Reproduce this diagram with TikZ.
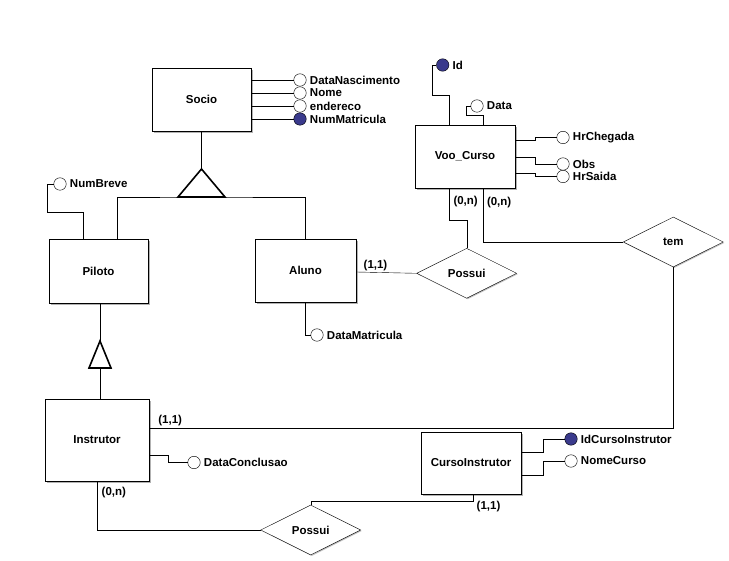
\documentclass[tikz,border=0pt]{standalone}
\usepackage{fontspec}
\setmainfont{Liberation Sans}
\usetikzlibrary{positioning,shapes.geometric,shadows}
\definecolor{keyblue}{RGB}{58,58,140}

\begin{document}
\begin{tikzpicture}[x=1pt,y=-1pt, every node/.style={font=\bfseries\fontsize{11.5}{13}\selectfont},
    ent/.style={draw,fill=white,minimum width=100pt,minimum height=63pt,
      drop shadow={shadow xshift=2pt,shadow yshift=-2pt,fill=gray!60,opacity=1}},
    rel/.style={draw,diamond,aspect=2,minimum width=100pt,minimum height=50pt,inner sep=0pt,fill=white,
      drop shadow={shadow xshift=1pt,shadow yshift=-1pt,fill=gray!50,opacity=1}},
    attr/.style={draw,circle,minimum size=12.5pt,inner sep=0pt,fill=white,label distance=-0.5pt},
    pk/.style={attr,fill=keyblue},
    isa/.style={line width=1.6pt,line join=miter},
    card/.style={inner sep=1.5pt}]
  \useasboundingbox[fill=white] (0,0) rectangle (729,561);

  % entidades
  \node[ent,minimum width=99pt] (Socio) at (201.5,99.5) {Socio};
  \node[ent,minimum width=99pt,minimum height=64pt] (Piloto) at (98.5,271) {Piloto};
  \node[ent,minimum width=101pt] (Aluno) at (305.5,270.5) {Aluno};
  \node[ent] (Voo) at (465,156.5) {Voo\_Curso};
  \node[ent,minimum width=104pt,minimum height=82pt] (Instrutor) at (97,440) {Instrutor};
  \node[ent,minimum height=62pt] (Curso) at (471,463) {CursoInstrutor};

  % relacionamentos
  \node[rel] (pos1) at (466.7,273.3) {Possui};
  \node[rel] (tem) at (673.3,242) {tem};
  \node[rel] (pos2) at (310.7,530) {Possui};

  % atributos
  \node[attr,label=right:DataNascimento] (aDataNasc) at (300,80) {};
  \node[attr,label=right:Nome] (aNome) at (300,93) {};
  \node[attr,label=right:endereco] (aEnd) at (300,106) {};
  \node[pk,label=right:NumMatricula] (aNumMat) at (300,119) {};
  \node[attr,label=right:NumBreve] (aNumBreve) at (60,184) {};
  \node[attr,label=right:DataMatricula] (aDataMat) at (317,335) {};
  \node[pk,label=right:Id] (aId) at (442.7,65) {};
  \node[attr,label=right:Data] (aData) at (477,106) {};
  \node[attr,label=right:HrChegada] (aHrCheg) at (563,137.5) {};
  \node[attr,label=right:Obs] (aObs) at (563,164) {};
  \node[attr,label=right:HrSaida] (aHrSaida) at (563,176.5) {};
  \node[attr,label=right:DataConclusao] (aDataConc) at (194,462.5) {};
  \node[pk,label=right:IdCursoInstrutor] (aIdCurso) at (571,439) {};
  \node[attr,label=right:NomeCurso] (aNomeCurso) at (571,461) {};

  % atributos de Socio
  \foreach \a in {aDataNasc,aNome,aEnd,aNumMat}
    \draw (Socio.east |- \a) -- (\a);

  % especializacao Socio
  \coordinate (isaTop) at (201.5,169);
  \coordinate (isaBase) at (201.5,197);
  \draw (Socio.south) -- (isaTop);
  \draw[isa] (isaTop) -- ++(-23.5,28) -- ++(47,0) -- cycle;
  \draw ([xshift=18.5pt]Piloto.north) |- (isaBase) -| (Aluno.north);

  % especializacao Piloto
  \coordinate (isa2Top) at (100,341);
  \coordinate (isa2Base) at (100,368);
  \draw (Piloto.south -| isa2Top) -- (isa2Top);
  \draw[isa] (isa2Top) -- ++(-11,27) -- ++(22,0) -- cycle;
  \draw (isa2Base) -- (Instrutor.north -| isa2Base);

  \draw ([xshift=-15.5pt]Piloto.north) -- ++(0,-27) -| ([xshift=-6pt]aNumBreve.west) -- (aNumBreve);
  \draw (Aluno.south) |- (aDataMat);
  \draw (Aluno.east |- 0,272) -- node[card,above,pos=0.32] (cAluno) {(1,1)} (pos1.west);

  % Voo_Curso
  \draw ([xshift=-15.7pt]Voo.south) -- node[card,right,xshift=2.5pt,pos=0.42] (cVoo1) {(0,n)} ++(0,32.3) -| (pos1.north);
  \draw ([xshift=18.3pt]Voo.south) |- node[card,right,xshift=2pt,pos=0.13] (cVoo2) {(0,n)} (tem.west);
  \draw ([xshift=-15.7pt]Voo.north) -- ++(0,-29.6) -| ([xshift=-4pt]aId.west) -- (aId);
  \draw ([xshift=18.3pt]Voo.north) -- ++(0,-9.3) -| ([xshift=-4.3pt]aData.west) -- (aData);
  \draw ([yshift=15.8pt]Voo.east) -- ++(20,0) |- (aHrCheg);
  \draw ([yshift=-0.8pt]Voo.east) -- ++(20,0) |- (aObs);
  \draw ([yshift=-16.8pt]Voo.east) -- ++(20,0) |- (aHrSaida);

  % Instrutor
  \draw (tem.south) |- node[card,above,pos=0.98] (cInstr1) {(1,1)} ([yshift=12pt]Instrutor.east);
  \draw ([yshift=-15pt]Instrutor.east) -- ++(18.6,0) |- (aDataConc);
  \draw (Instrutor.south) |- node[card,right,xshift=3pt,pos=0.12] (cInstr2) {(0,n)} (pos2.west);

  % CursoInstrutor
  \draw (pos2.north) -- ++(0,-3.3) -| ([xshift=1.7pt]Curso.south);
  \node[card,anchor=north west] (cCurso) at ([xshift=4pt,yshift=-5pt]Curso.south) {(1,1)};
  \draw ([yshift=10.3pt]Curso.east) -- ++(22,0) |- (aIdCurso);
  \draw ([yshift=-12.3pt]Curso.east) -- ++(22,0) |- (aNomeCurso);
\end{tikzpicture}
\end{document}
